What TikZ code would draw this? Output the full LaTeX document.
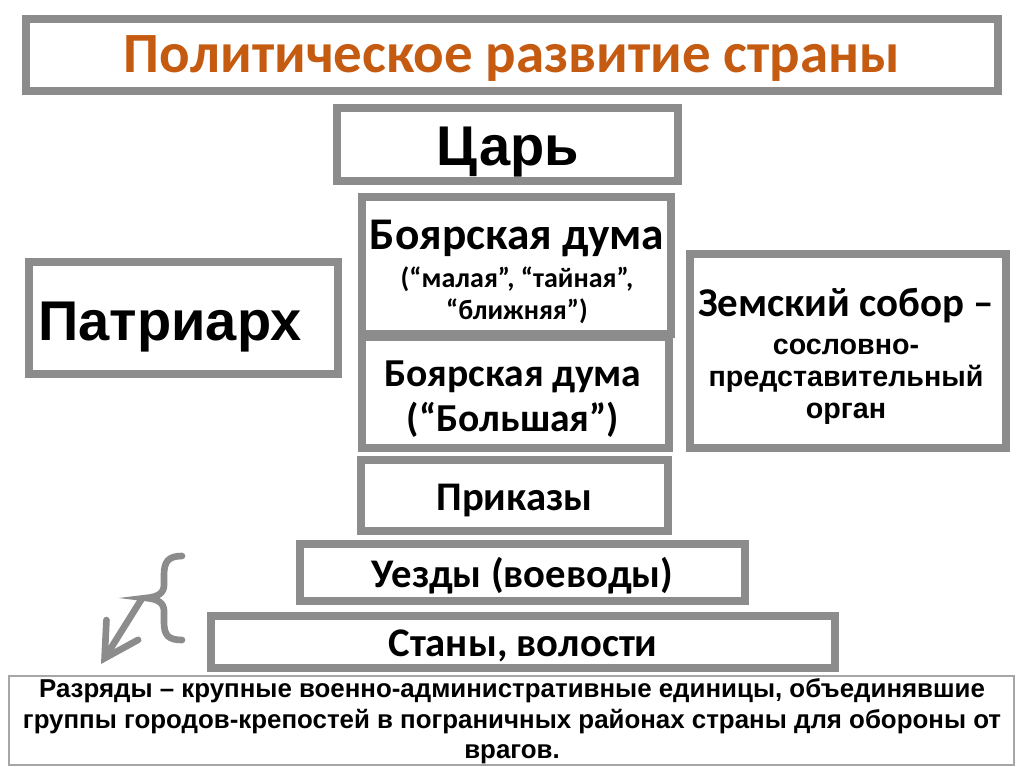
\documentclass[tikz,border=0pt]{standalone}
\usepackage{fontspec}
\setmainfont{Liberation Sans}
\newfontfamily\calibri{Carlito}
\newfontfamily\arial{Liberation Sans}
\usetikzlibrary{arrows.meta}
\definecolor{boxgray}{RGB}{140,140,140}
\definecolor{linegray}{RGB}{166,166,166}
\definecolor{titleorange}{RGB}{197,90,17}
\tikzstyle{block}=[draw=boxgray, line width=5.5pt, inner sep=0pt, align=center, fill=white, text depth=0pt]
\tikzstyle{label}=[inner sep=0pt, align=center]
\tikzset{sz/.style 2 args={minimum width=#1*0.75pt, minimum height=#2*0.75pt}}
\newcommand{\fs}[2]{\fontsize{#1}{#2}\selectfont}

\begin{document}
\begin{tikzpicture}[x=0.75pt, y=-0.75pt]
\useasboundingbox (0,0) rectangle (1024,767);
% Title
    \node[block, sz={972}{72}, text height=27pt, text=titleorange,
        font=\calibri\bfseries\fs{42.7}{48}] (title) at (512,55) {Политическое развитие страны};
% Tsar and duma
    \node[block, sz={341}{73}, text height=30.8pt,
        font=\arial\bfseries\fs{42}{48}] (tsar) at (507.5,144.5) {Царь};
    \node[block, sz={309}{137}] (dumaSmall) at (516.5,265.5) {};
    \node[label, font=\calibri\bfseries\fs{21}{24}] (dumaSmallText) at (517,272)
        {\fs{34}{24}Боярская дума\\[4.5pt] (“малая”, “тайная”,\\ “ближняя”)};
    \node[block, sz={307}{111}] (dumaBig) at (515.5,392.5) {};
    \node[label, font=\calibri\bfseries\fs{29.7}{33.75}] (dumaBigText) at (513,399)
        {Боярская дума\\ (“Большая”)};
% Patriarch and sobor
    \node[block, sz={309}{112}, text height=33pt, text width=290*0.75pt, align=left,
        font=\arial\bfseries\fs{42}{48}] (patriarch) at (183.5,318) {Патриарх};
    \node[block, sz={316}{194}] (sobor) at (848,351) {};
    \node[label, font=\arial\bfseries\fs{21.5}{24}] (soborText) at (846,356)
        {\calibri\fs{30.7}{24}Земский собор –\\[4.5pt] сословно-\\ представительный\\ орган};
% Local government
    \node[block, sz={307}{71}, text height=22pt,
        font=\calibri\bfseries\fs{30.5}{36}] (prikazy) at (514.5,495.5) {Приказы};
    \node[block, sz={445}{57}, text height=22pt,
        font=\calibri\bfseries\fs{30.5}{36}] (uezdy) at (522.5,572.5) {Уезды (воеводы)};
    \node[block, sz={624}{52}, text height=22pt,
        font=\calibri\bfseries\fs{30.5}{36}] (stany) at (523,642) {Станы, волости};
% Razryady
    \node[draw=linegray, line width=1.5pt, sz={1005}{89}] (razryady) at (511.5,720.5) {};
    \node[label, font=\arial\bfseries\fs{19.4}{23}] (razryadyText) at (512,721.5)
        {Разряды – крупные военно-административные единицы, объединявшие\\
         группы городов-крепостей в пограничных районах страны для обороны от\\
         врагов.};
% Brace and arrow
    \draw[boxgray, line width=5pt, line cap=round]
        (182,556) .. controls (168,556) and (164,562) .. (164,575) -- (164,585)
        .. controls (164,593) and (158,597) .. (146,598)
        .. controls (158,599) and (164,603) .. (164,611) -- (164,622)
        .. controls (164,635) and (168,640) .. (182,640);
    \coordinate (braceTip) at (141,600);
    \coordinate (arrowEnd) at (101,664);
    \draw[boxgray, line width=5pt, line cap=round,
        -{Straight Barb[length=25pt, width=28pt, line cap=round]}] (braceTip) -- (arrowEnd);
\end{tikzpicture}
\end{document}
